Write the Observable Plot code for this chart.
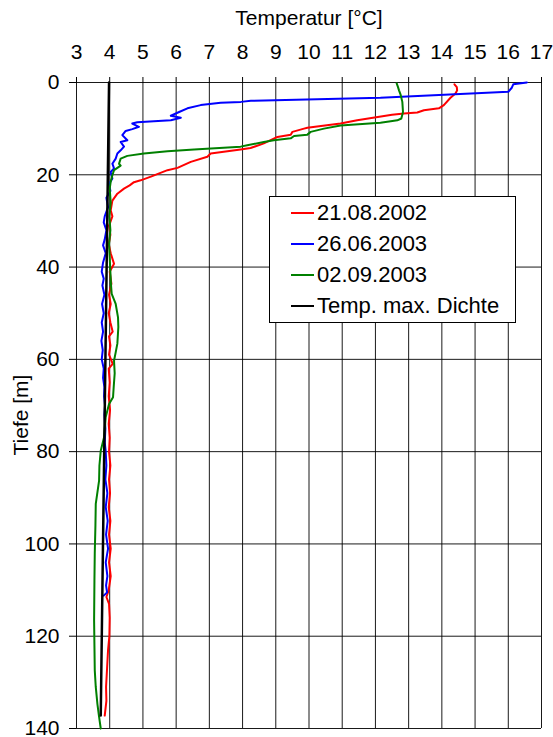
<!DOCTYPE html>
<html>
<head>
<meta charset="utf-8">
<script src="https://cdn.jsdelivr.net/npm/d3@7"></script>
<script src="https://cdn.jsdelivr.net/npm/@observablehq/plot@0.6"></script>
<style>
  html, body { margin: 0; padding: 0; background: #fff; }
  #wrap { position: relative; width: 553px; height: 737px; font-family: "Liberation Sans", Arial, sans-serif; }
  #legend { position: absolute; left: 269px; top: 196px; width: 245px; height: 125px; background: #fff; border: 1px solid #000; }
  .row { position: absolute; left: 0; height: 26px; font-size: 22px; line-height: 26px; color: #000; white-space: nowrap; }
  .sw { position: absolute; left: 21px; top: 12px; width: 23px; height: 2px; }
  .lt { position: absolute; left: 47px; top: 0; }
  #ylab { position: absolute; left: 21px; top: 415px; width: 0; height: 0; }
  #ylab span { position: absolute; left: 0; top: 0; transform: translate(-50%, -50%) rotate(-90deg); font-size: 21px; line-height: 24px; white-space: nowrap; color: #000; }
</style>
</head>
<body>
<div id="wrap"></div>
<script>
// ---- data ----
const xTicks = [3,4,5,6,7,8,9,10,11,12,13,14,15,16,17];
const yTicks = [0,20,40,60,80,100,120,140];
const xTitle = "Temperatur [°C]";
const yTitle = "Tiefe [m]";
const seriesNames = ["21.08.2002","26.06.2003","02.09.2003","Temp. max. Dichte"];
const seriesColors = ["#ff0000","#0000ff","#008000","#000000"];

const redDepth = [0.4,1.0,1.7,2.4,3.3,4.9,5.6,6.0,6.5,6.7,7.0,8.2,8.9,9.8,10.0,10.7,11.3,11.8,13.2,14.2,14.5,15.4,16.1,17.2,18.5,19.0,20.4,21.2,21.6,22.3,23,24.1,25.6,27.7,29,31,33,35,37,39.3,41,43.6,46,48,50,52,54,55,57,59,61,62,65,68,71,74,77,80,83,86,89,92,95,98,101,104,107,110,111.5,113,116,120,123,127,131,134,137.2];
const redTemp  = [14.38,14.45,14.46,14.41,14.26,14.06,13.91,13.46,13.26,12.86,12.5,11.45,10.95,9.95,9.85,9.5,9.45,9.05,8.64,8.24,7.94,7.04,6.94,6.44,6.04,5.74,5.24,4.93,4.73,4.6,4.43,4.23,4.08,4.03,4.08,3.98,4.02,3.97,4.03,4.13,4.0,4.05,3.98,4.03,3.97,4.02,4.09,3.98,4.02,3.98,4.09,3.97,4.0,3.97,4.01,3.97,4.0,3.98,4.02,3.98,4.01,3.97,4.02,3.98,4.03,3.98,4.03,3.97,3.9,3.98,4.0,3.99,3.95,3.92,3.89,3.9,3.85];

const blueDepth = [0,0.4,1.2,2.0,3.3,3.97,4.2,4.4,4.9,5.6,6.4,7.2,7.65,8.2,8.4,8.6,8.9,9.6,10.1,10.5,11.4,12.5,12.9,13.9,14.7,15.4,16.5,17.6,18.6,19.4,20.8,22,23.5,25,27,29,30.3,32,34,35.3,37,39,41,42.5,44,46,48,50,52,54,56,58,60,62,64,66,68,70,72,75,78,80,83,86,89,92,95,98,101,104,107,109,110.5,111.2];
const blueTemp  = [16.56,16.15,16.1,16.0,12.15,8.25,7.95,7.34,6.74,6.34,6.09,5.84,6.14,5.84,5.33,4.83,4.68,4.88,4.68,4.48,4.38,4.53,4.33,4.43,4.33,4.23,4.18,4.08,4.13,4.03,4.08,3.98,4.02,3.9,3.95,3.85,3.82,3.9,3.85,3.8,3.88,3.8,3.76,3.82,3.78,3.84,3.77,3.82,3.76,3.8,3.75,3.79,3.76,3.82,3.8,3.84,3.83,3.86,3.84,3.87,3.85,3.88,3.9,3.87,3.93,3.88,3.94,3.89,3.95,3.88,3.93,3.89,3.92,3.82];

const greenDepth = [0.2,1.0,1.7,2.7,4.2,6.4,7.8,8.2,8.4,8.7,9.3,10.0,10.7,11.3,11.6,12.1,12.5,12.9,13.6,13.9,14.5,14.9,15.4,15.9,16.5,17.6,18.0,19.0,20.1,21.5,23,26,29,32,35,38,41,44,45.8,48,50.9,53,56.6,58.5,60.3,63,66,68.2,69.7,72.5,76.9,79.8,83,86.3,91.3,96,102,108,116.6,122,127.4,131,134.7,137.5,140];
const greenTemp  = [12.64,12.68,12.71,12.76,12.81,12.83,12.78,12.66,12.46,12.15,10.95,10.45,10.05,9.95,9.55,9.45,8.94,8.64,8.14,7.94,6.54,5.74,5.03,4.53,4.33,4.28,4.33,4.13,4.08,4.03,4.0,4.03,3.99,4.02,3.98,4.0,4.02,4.04,4.06,4.18,4.25,4.26,4.23,4.18,4.13,4.15,4.12,4.1,3.98,3.88,3.83,3.73,3.69,3.68,3.58,3.57,3.55,3.54,3.53,3.54,3.55,3.58,3.63,3.68,3.73];

const blackDepth = [0,137.2];
const blackTemp  = [3.98,3.73];

// ---- build tables ----
const toRows = (d, t) => d.map((v, i) => ({depth: v, temp: t[i]}));
const red = toRows(redDepth, redTemp);
const blue = toRows(blueDepth, blueTemp);
const green = toRows(greenDepth, greenTemp);
const black = toRows(blackDepth, blackTemp);

const chart = Plot.plot({
  width: 553,
  height: 737,
  marginTop: 82,
  marginLeft: 76,
  marginRight: 12,
  marginBottom: 9,
  style: {fontFamily: "'Liberation Sans', Arial, sans-serif", fontSize: "21px", background: "#fff", color: "#000", overflow: "visible"},
  x: {domain: [3, 17], ticks: xTicks, label: null},
  y: {domain: [0, 140], reverse: true, ticks: yTicks, label: null},
  marks: [
    Plot.gridX(xTicks, {stroke: "#000", strokeOpacity: 0.9, strokeWidth: 1}),
    Plot.gridY(yTicks, {stroke: "#000", strokeOpacity: 0.9, strokeWidth: 1}),
    Plot.axisX(xTicks, {anchor: "top", tickSize: 6, tickPadding: 18, label: null, fontSize: 21}),
    Plot.axisY(yTicks, {anchor: "left", tickSize: 7, tickPadding: 10, label: null, fontSize: 21}),
    Plot.line(red, {x: "temp", y: "depth", stroke: seriesColors[0], strokeWidth: 2}),
    Plot.line(blue, {x: "temp", y: "depth", stroke: seriesColors[1], strokeWidth: 2}),
    Plot.line(green, {x: "temp", y: "depth", stroke: seriesColors[2], strokeWidth: 2}),
    Plot.line(black, {x: "temp", y: "depth", stroke: seriesColors[3], strokeWidth: 2.5}),
    Plot.text([xTitle], {frameAnchor: "top", dy: -58, fontSize: 21, lineAnchor: "bottom"})
  ]
});

const wrap = document.getElementById("wrap");
wrap.appendChild(chart);

// y axis title
const ylab = document.createElement("div");
ylab.id = "ylab";
const ys = document.createElement("span");
ys.textContent = yTitle;
ylab.appendChild(ys);
wrap.appendChild(ylab);

// legend overlay
const legend = document.createElement("div");
legend.id = "legend";
seriesNames.forEach((name, i) => {
  const row = document.createElement("div");
  row.className = "row";
  row.style.top = (3 + i * 31) + "px";
  row.style.width = "100%";
  const sw = document.createElement("div");
  sw.className = "sw";
  sw.style.background = seriesColors[i];
  const lt = document.createElement("div");
  lt.className = "lt";
  lt.textContent = name;
  row.appendChild(sw);
  row.appendChild(lt);
  legend.appendChild(row);
});
wrap.appendChild(legend);
</script>
</body>
</html>
